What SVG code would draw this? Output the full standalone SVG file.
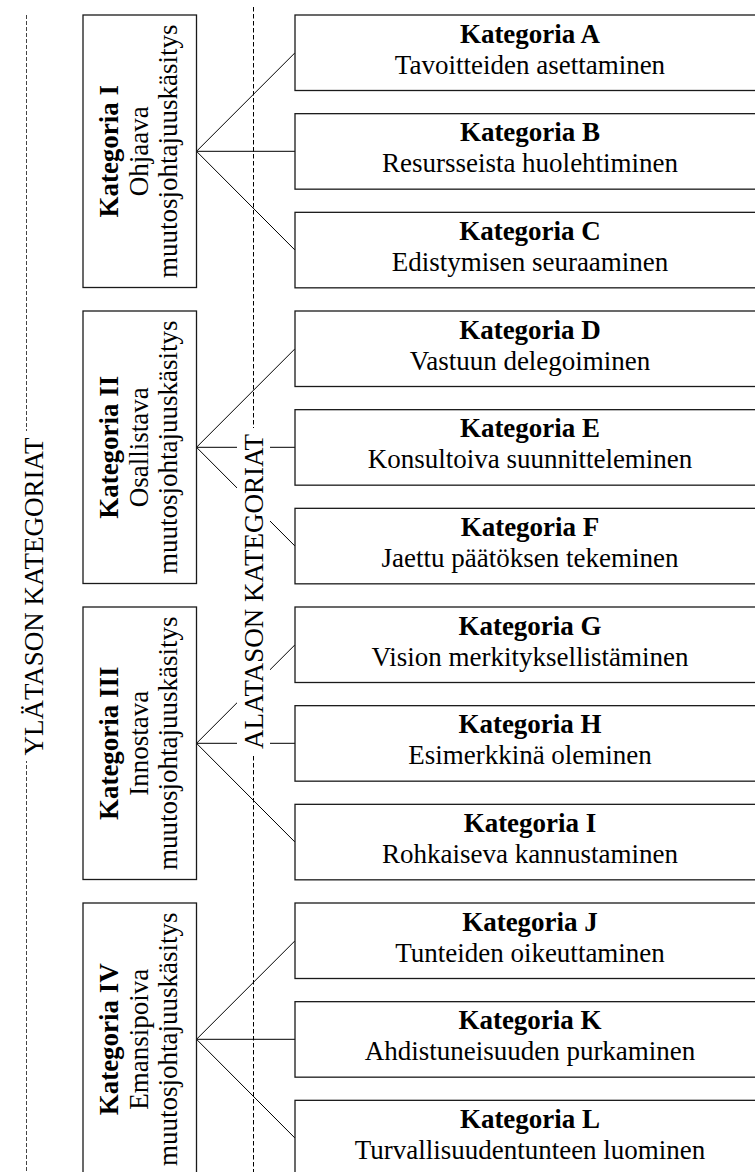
<svg xmlns="http://www.w3.org/2000/svg" width="755" height="1172" viewBox="0 0 755 1172">
  <style>
    .box { fill: #fff; stroke: #1a1a1a; stroke-width: 1.3; }
    .conn { stroke: #000; stroke-width: 1; fill: none; }
    .guide-outer { stroke: #444; stroke-width: 1; stroke-dasharray: 4 2; fill: none; }
    .guide-inner { stroke: #000; stroke-width: 1; stroke-dasharray: 4.5 2.5; fill: none; }
    .label-bg { fill: #fff; stroke: none; }
    text { font-family: "Liberation Serif", "Times New Roman", serif; font-size: 27px; fill: #000; }
    .b { font-weight: bold; }
    .c { text-anchor: middle; }
  </style>

  <!-- level guides -->
  <g id="guides">
    <line class="guide-outer" x1="26.5" y1="15" x2="26.5" y2="1172"/>
    <line class="guide-inner" x1="253.5" y1="7" x2="253.5" y2="1172"/>
  </g>

  <!-- connectors from each main category to its subcategories -->
  <g id="connectors">
    <line class="conn" x1="196.5" y1="151.3" x2="295" y2="52.75"/>
    <line class="conn" x1="196.5" y1="151.3" x2="295" y2="151.3"/>
    <line class="conn" x1="196.5" y1="151.3" x2="295" y2="250.1"/>

    <line class="conn" x1="196.5" y1="447.3" x2="295" y2="348.75"/>
    <line class="conn" x1="196.5" y1="447.3" x2="295" y2="447.3"/>
    <line class="conn" x1="196.5" y1="447.3" x2="295" y2="546.1"/>

    <line class="conn" x1="196.5" y1="743.3" x2="295" y2="644.75"/>
    <line class="conn" x1="196.5" y1="743.3" x2="295" y2="743.3"/>
    <line class="conn" x1="196.5" y1="743.3" x2="295" y2="842.1"/>

    <line class="conn" x1="196.5" y1="1039.3" x2="295" y2="940.75"/>
    <line class="conn" x1="196.5" y1="1039.3" x2="295" y2="1039.3"/>
    <line class="conn" x1="196.5" y1="1039.3" x2="295" y2="1138.1"/>
  </g>

  <!-- level labels on the guides -->
  <g id="level-upper">
    <rect class="label-bg" x="18" y="431" width="30" height="330"/>
    <text class="c" transform="translate(43 596.5) rotate(-90)">YLÄTASON KATEGORIAT</text>
  </g>
  <g id="level-lower">
    <rect class="label-bg" x="237" y="428" width="33" height="326"/>
    <text class="c" transform="translate(263.3 591.5) rotate(-90)">ALATASON KATEGORIAT</text>
  </g>

  <!-- main categories -->
  <g id="cat-I">
    <rect class="box" x="83" y="15" width="113.5" height="272.5"/>
    <g transform="translate(139.75 151.25) rotate(-90)">
      <text class="c b" x="0" y="-21.5">Kategoria I</text>
      <text class="c" x="0" y="8">Ohjaava</text>
      <text class="c" x="0" y="37.5">muutosjohtajuuskäsitys</text>
    </g>
  </g>
  <g id="cat-II">
    <rect class="box" x="83" y="311" width="113.5" height="272.5"/>
    <g transform="translate(139.75 447.25) rotate(-90)">
      <text class="c b" x="0" y="-21.5">Kategoria II</text>
      <text class="c" x="0" y="8">Osallistava</text>
      <text class="c" x="0" y="37.5">muutosjohtajuuskäsitys</text>
    </g>
  </g>
  <g id="cat-III">
    <rect class="box" x="83" y="607" width="113.5" height="272.5"/>
    <g transform="translate(139.75 743.25) rotate(-90)">
      <text class="c b" x="0" y="-21.5">Kategoria III</text>
      <text class="c" x="0" y="8">Innostava</text>
      <text class="c" x="0" y="37.5">muutosjohtajuuskäsitys</text>
    </g>
  </g>
  <g id="cat-IV">
    <rect class="box" x="83" y="903" width="113.5" height="272.5"/>
    <g transform="translate(139.75 1039.25) rotate(-90)">
      <text class="c b" x="0" y="-21.5">Kategoria IV</text>
      <text class="c" x="0" y="8">Emansipoiva</text>
      <text class="c" x="0" y="37.5">muutosjohtajuuskäsitys</text>
    </g>
  </g>

  <!-- subcategories -->
  <g id="sub-A">
    <rect class="box" x="295" y="15" width="470" height="75.5"/>
    <text class="c b" x="530" y="42.5">Kategoria A</text>
    <text class="c" x="530" y="73.5">Tavoitteiden asettaminen</text>
  </g>
  <g id="sub-B">
    <rect class="box" x="295" y="113.67" width="470" height="75.5"/>
    <text class="c b" x="530" y="141.17">Kategoria B</text>
    <text class="c" x="530" y="172.17">Resursseista huolehtiminen</text>
  </g>
  <g id="sub-C">
    <rect class="box" x="295" y="212.33" width="470" height="75.5"/>
    <text class="c b" x="530" y="239.83">Kategoria C</text>
    <text class="c" x="530" y="270.83">Edistymisen seuraaminen</text>
  </g>
  <g id="sub-D">
    <rect class="box" x="295" y="311" width="470" height="75.5"/>
    <text class="c b" x="530" y="338.5">Kategoria D</text>
    <text class="c" x="530" y="369.5">Vastuun delegoiminen</text>
  </g>
  <g id="sub-E">
    <rect class="box" x="295" y="409.67" width="470" height="75.5"/>
    <text class="c b" x="530" y="437.17">Kategoria E</text>
    <text class="c" x="530" y="468.17">Konsultoiva suunnitteleminen</text>
  </g>
  <g id="sub-F">
    <rect class="box" x="295" y="508.33" width="470" height="75.5"/>
    <text class="c b" x="530" y="535.83">Kategoria F</text>
    <text class="c" x="530" y="566.83">Jaettu päätöksen tekeminen</text>
  </g>
  <g id="sub-G">
    <rect class="box" x="295" y="607" width="470" height="75.5"/>
    <text class="c b" x="530" y="634.5">Kategoria G</text>
    <text class="c" x="530" y="665.5">Vision merkityksellistäminen</text>
  </g>
  <g id="sub-H">
    <rect class="box" x="295" y="705.67" width="470" height="75.5"/>
    <text class="c b" x="530" y="733.17">Kategoria H</text>
    <text class="c" x="530" y="764.17">Esimerkkinä oleminen</text>
  </g>
  <g id="sub-I">
    <rect class="box" x="295" y="804.33" width="470" height="75.5"/>
    <text class="c b" x="530" y="831.83">Kategoria I</text>
    <text class="c" x="530" y="862.83">Rohkaiseva kannustaminen</text>
  </g>
  <g id="sub-J">
    <rect class="box" x="295" y="903" width="470" height="75.5"/>
    <text class="c b" x="530" y="930.5">Kategoria J</text>
    <text class="c" x="530" y="961.5">Tunteiden oikeuttaminen</text>
  </g>
  <g id="sub-K">
    <rect class="box" x="295" y="1001.67" width="470" height="75.5"/>
    <text class="c b" x="530" y="1029.17">Kategoria K</text>
    <text class="c" x="530" y="1060.17">Ahdistuneisuuden purkaminen</text>
  </g>
  <g id="sub-L">
    <rect class="box" x="295" y="1100.33" width="470" height="75.5"/>
    <text class="c b" x="530" y="1127.83">Kategoria L</text>
    <text class="c" x="530" y="1158.83">Turvallisuudentunteen luominen</text>
  </g>
</svg>
